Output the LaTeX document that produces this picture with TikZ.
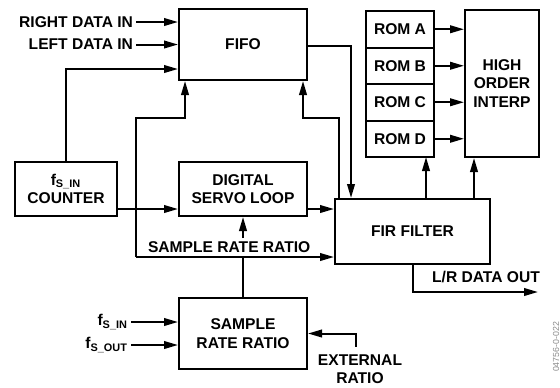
\documentclass[tikz,border=0pt]{standalone}
\usepackage{fontspec}
\setmainfont{Liberation Sans}
\usetikzlibrary{arrows.meta, positioning, calc}

\begin{document}
\begin{tikzpicture}[
    x=0.5pt, y=-0.5pt,
    line width=1pt,
    every node/.style={font=\fontsize{7.8}{9.2}\selectfont\bfseries, align=center},
    box/.style={draw, inner sep=0pt},
    rom/.style={draw, minimum width=34pt, minimum height=18.25pt, inner sep=0pt, outer sep=0pt},
    lbl/.style={inner sep=1pt},
    arr/.style={-{Triangle[length=7pt,width=3.8pt]}}
]
\useasboundingbox (0,0) rectangle (560,387);

% blocks
\node[box, minimum width=64pt, minimum height=35.5pt] (fifo) at (243,44.5) {FIFO};
\node[box, minimum width=51pt, minimum height=27pt] (counter) at (66,189) {f\textsubscript{S\_IN}\\COUNTER};
\node[box, minimum width=64pt, minimum height=27pt] (servo) at (243,189) {DIGITAL\\SERVO LOOP};
\node[box, minimum width=64pt, minimum height=35.5pt] (srr) at (243,333.5) {SAMPLE\\RATE RATIO};
\node[box, minimum width=77.5pt, minimum height=32.5pt] (fir) at (412.5,231.5) {FIR FILTER};
\node[box, minimum width=37pt, minimum height=73.5pt] (interp) at (502,83.5) {HIGH\\ORDER\\INTERP};

\node[rom] (romA) at (400,29.25) {ROM A};
\node[rom, below=0pt of romA] (romB) {ROM B};
\node[rom, below=0pt of romB] (romC) {ROM C};
\node[rom, below=0pt of romC] (romD) {ROM D};

% labels
\node[lbl, anchor=east] (rin) at (136,22) {RIGHT DATA IN};
\node[lbl, anchor=east] (lin) at (136,44.5) {LEFT DATA IN};
\node[lbl, anchor=base west] (ratio) at (145,252) {SAMPLE RATE RATIO};
\node[lbl] (lrout) at (486,277) {L/R DATA OUT};
\node[lbl, anchor=east] (fin) at (131,322) {f\textsubscript{S\_IN}};
\node[lbl, anchor=east] (fout) at (131,345) {f\textsubscript{S\_OUT}};
\node (ext) at (360,369) {EXTERNAL\\RATIO};
\node[rotate=90, text=black!45, font=\fontsize{4.4}{5}\selectfont] (figid) at (556,347) {04756-0-022};

% inputs
\draw[arr] (rin.east) -- (rin.east -| fifo.west);
\draw[arr] (lin.east) -- (lin.east -| fifo.west);
\draw[arr] (counter.north) |- ($(fifo.south west)+(0,-12)$);
\draw[arr] ($(counter.south east)+(0,-8)$) -- ($(servo.south west)+(0,-8)$);

% ratio bus
\coordinate (bus) at (136,257);
\coordinate (bend1) at (185,118);
\draw[arr] (bus) -- (bus -| fir.west);
\draw[arr] (bus) |- (bend1) -- (bend1 |- fifo.south);
\draw (srr.north) -- (srr.north |- bus);
\draw[arr] (ratio.north -| servo.south) -- (servo.south);

\coordinate (s1) at ($(servo.south east)+(0,-8)$);
\draw[arr] (s1) -- (s1 -| fir.west);

% fifo <-> fir
\draw[arr] ($(fifo.north east)+(0,38)$) -| ($(fir.north west)+(17,0)$);
\coordinate (bend2) at (303,118);
\draw[arr] ($(fir.north west)+(5,0)$) |- (bend2) -- (bend2 |- fifo.south);

% roms and interpolator
\foreach \r in {A,B,C,D}
    \draw[arr] (rom\r.east) -- (rom\r.east -| interp.west);
\coordinate (up1) at ($(romD.south east)+(-8,0)$);
\coordinate (up2) at ($(interp.south west)+(10,0)$);
\draw[arr] (up1 |- fir.north) -- (up1);
\draw[arr] (up2 |- fir.north) -- (up2);

% outputs
\coordinate (out) at (538,292);
\draw[arr] (fir.south) |- (out);
\draw[arr] (fin.east) -- (fin.east -| srr.west);
\draw[arr] (fout.east) -- (fout.east -| srr.west);
\draw[arr] ([xshift=-2pt]ext.north) |- (srr.east);
\end{tikzpicture}
\end{document}
